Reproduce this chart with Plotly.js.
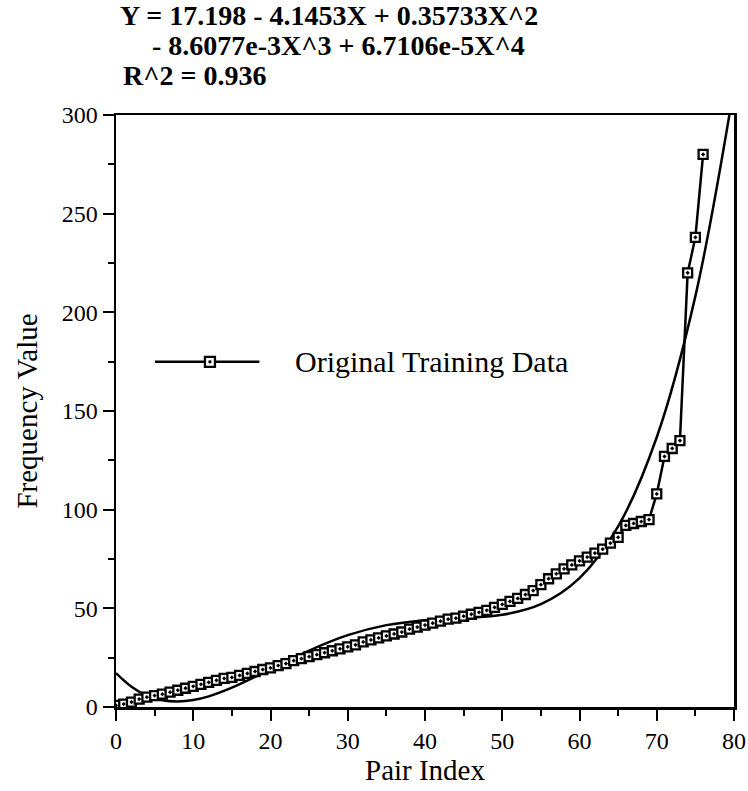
<!DOCTYPE html>
<html>
<head>
<meta charset="utf-8">
<script src="https://cdn.plot.ly/plotly-3.0.1.min.js"></script>
<style>html,body{margin:0;padding:0;background:#fff;}#chart{width:748px;height:791px;}</style>
</head>
<body>
<div id="chart"></div>
<script>
// Original training data: pair index vs frequency value
const pairIndex = [0,1,2,3,4,5,6,7,8,9,10,11,12,13,14,15,16,17,18,19,20,21,22,23,24,25,26,27,28,29,30,31,32,33,34,35,36,37,38,39,40,41,42,43,44,45,46,47,48,49,50,51,52,53,54,55,56,57,58,59,60,61,62,63,64,65,66,67,68,69,70,71,72,73,74,75,76];
const freqValue = [0.8,1.5,2.5,4,5,5.8,6.5,7.5,8.5,9.5,10.5,11.5,12.5,13.5,14.5,15,16,17,18,19,19.8,21,22,23.5,24.5,25.5,26.5,27.5,28.5,29.5,30.5,31.5,33,34,35,36,37,38,39.5,40.5,41.5,42.5,43.5,44.5,45,46,47,48,49,50.5,52,53.5,55,57,59,62,65,67.5,70,72,74,76,78,80,83,86,92,93,94,95,108,127,131,135,220,238,280];

// Fitted 4th-order polynomial curve
const fitX = [0,2,4,6,8,10,12,15,20,25,30,35,40,45,50,55,60,65,70,75,80];
const fitY = [17.2,10.3,5.8,3.4,2.8,3.5,5.4,9.8,19.1,28.6,36.4,41.5,44.0,45.1,46.7,52.1,65.3,91.5,136.7,208.2,314];

const titleLines = [
  "Y = 17.198 - 4.1453X + 0.35733X^2",
  "- 8.6077e-3X^3 + 6.7106e-5X^4",
  "R^2 = 0.936"
];
const legendLabel = "Original Training Data";
const xTitle = "Pair Index";
const yTitle = "Frequency Value";

const FONT = "Liberation Serif";

const traces = [
  {
    x: fitX, y: fitY, type: "scatter", mode: "lines",
    line: {color: "#000", width: 2.5, shape: "spline", smoothing: 1},
    showlegend: false, hoverinfo: "skip"
  },
  {
    x: pairIndex, y: freqValue, type: "scatter", mode: "lines+markers",
    name: legendLabel,
    line: {color: "#000", width: 2.5},
    marker: {symbol: "square-dot", size: 9, color: "#fff", line: {color: "#000", width: 2.3}},
    showlegend: false
  }
];

const axisCommon = {
  showgrid: false, zeroline: false,
  showline: true, linecolor: "#000", linewidth: 2.5, mirror: true,
  ticks: "outside", ticklen: 11, tickwidth: 2, tickcolor: "#000",
  tickfont: {family: FONT, size: 24, color: "#000"}
};

const layout = {
  width: 748, height: 791,
  font: {family: FONT, color: "#000", size: 24},
  margin: {l: 116, r: 14, t: 115, b: 84},
  paper_bgcolor: "#fff", plot_bgcolor: "#fff",
  xaxis: Object.assign({}, axisCommon, {
    range: [0, 80], tick0: 0, dtick: 10,
    minor: {dtick: 5, ticks: "outside", ticklen: 6, tickwidth: 2, tickcolor: "#000"},
    title: {text: xTitle, font: {family: FONT, size: 29, color: "#000"}, standoff: 0}
  }),
  yaxis: Object.assign({}, axisCommon, {
    range: [0, 300], tick0: 0, dtick: 50,
    minor: {dtick: 25, ticks: "outside", ticklen: 6, tickwidth: 2, tickcolor: "#000"},
    title: {text: yTitle, font: {family: FONT, size: 29, color: "#000"}, standoff: 16}
  }),
  showlegend: false,
  annotations: [
    {xref: "paper", yref: "paper", x: 0.003, y: 1, yshift: 100, xanchor: "left", yanchor: "middle",
     showarrow: false, text: titleLines[0], font: {family: FONT, size: 28, color: "#000", weight: "bold"}},
    {xref: "paper", yref: "paper", x: 0.055, y: 1, yshift: 70, xanchor: "left", yanchor: "middle",
     showarrow: false, text: titleLines[1], font: {family: FONT, size: 28, color: "#000", weight: "bold"}},
    {xref: "paper", yref: "paper", x: 0.008, y: 1, yshift: 40, xanchor: "left", yanchor: "middle",
     showarrow: false, text: titleLines[2], font: {family: FONT, size: 28, color: "#000", weight: "bold"}},
    {
      xref: "paper", yref: "paper", x: 0.286, y: 0.583,
      xanchor: "left", yanchor: "middle", showarrow: false,
      text: legendLabel,
      font: {family: FONT, size: 30, color: "#000"}
    }
  ],
  shapes: [
    {type: "line", xref: "paper", yref: "paper", x0: 0.063, x1: 0.232, y0: 0.583, y1: 0.583,
     line: {color: "#000", width: 2.5}},
    {type: "rect", xref: "paper", yref: "paper", xsizemode: "pixel", ysizemode: "pixel",
     xanchor: 0.152, yanchor: 0.583, x0: -5, x1: 5, y0: -5, y1: 5,
     fillcolor: "#fff", line: {color: "#000", width: 2.3}},
    {type: "rect", xref: "paper", yref: "paper", xsizemode: "pixel", ysizemode: "pixel",
     xanchor: 0.152, yanchor: 0.583, x0: -1.2, x1: 1.2, y0: -1.2, y1: 1.2,
     fillcolor: "#000", line: {color: "#000", width: 0.5}}
  ]
};

Plotly.newPlot("chart", traces, layout, {staticPlot: true, displayModeBar: false});
</script>
</body>
</html>
